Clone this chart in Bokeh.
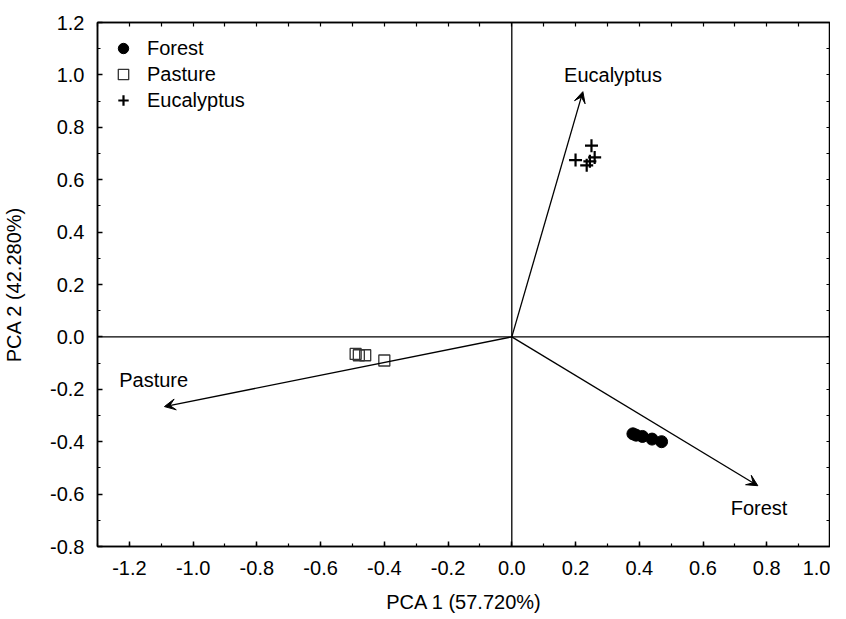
import numpy as np
from bokeh.plotting import figure
from bokeh.models import (Range1d, Arrow, VeeHead, Span, LinearAxis, FixedTicker,
                          Legend, LegendItem, ColumnDataSource, PrintfTickFormatter)
from bokeh.embed import file_html
from bokeh.resources import INLINE
from bokeh.core.properties import value

# ---- data ----
forest_x = [0.38, 0.39, 0.41, 0.44, 0.47]
forest_y = [-0.37, -0.375, -0.38, -0.39, -0.40]
pasture_x = [-0.49, -0.48, -0.46, -0.40]
pasture_y = [-0.065, -0.07, -0.07, -0.09]
euc_x = [0.25, 0.20, 0.235, 0.26, 0.245]
euc_y = [0.73, 0.675, 0.655, 0.685, 0.67]

vec_names = ["Forest", "Pasture", "Eucalyptus"]
vec_x = [0.772, -1.09, 0.223]
vec_y = [-0.568, -0.266, 0.936]
vec_label_x = [0.687, -1.232, 0.164]
vec_label_y = [-0.653, -0.164, 1.0]

x_ticks = [-1.2, -1.0, -0.8, -0.6, -0.4, -0.2, 0.0, 0.2, 0.4, 0.6, 0.8, 1.0]
y_ticks = [-0.8, -0.6, -0.4, -0.2, 0.0, 0.2, 0.4, 0.6, 0.8, 1.0, 1.2]
x_minor = [round(v, 1) for v in np.arange(-1.3, 1.01, 0.1)]
y_minor = [round(v, 1) for v in np.arange(-0.8, 1.21, 0.1)]

FONT = "Liberation Sans"
FS = "20px"

p = figure(frame_width=733, frame_height=524, output_backend="svg", toolbar_location=None,
           x_range=Range1d(-1.3, 1.0), y_range=Range1d(-0.8, 1.2),
           min_border_left=95, min_border_right=0, min_border_top=22, min_border_bottom=68,
           x_axis_label="PCA 1 (57.720%)", y_axis_label="PCA 2 (42.280%)")
p.grid.visible = False
p.outline_line_color = "black"
p.outline_line_width = 1.5
p.background_fill_color = "white"
p.border_fill_color = "white"

def style_axis(ax, ticks, minor):
    ax.ticker = FixedTicker(ticks=ticks, minor_ticks=minor)
    ax.formatter = PrintfTickFormatter(format="%.1f")
    ax.major_tick_in = 5
    ax.major_tick_out = 0
    ax.minor_tick_in = 3
    ax.minor_tick_out = 0
    ax.axis_line_width = 1.5
    ax.axis_line_color = "black"
    ax.major_tick_line_color = "black"
    ax.minor_tick_line_color = "black"
    ax.major_tick_line_width = 1.5
    ax.minor_tick_line_width = 1.2
    ax.major_label_text_font = FONT
    ax.major_label_text_font_size = FS
    ax.major_label_text_color = "black"
    ax.axis_label_text_font = FONT
    ax.axis_label_text_font_size = FS
    ax.axis_label_text_font_style = "normal"
    ax.axis_label_text_color = "black"

style_axis(p.xaxis[0], x_ticks, x_minor)
style_axis(p.yaxis[0], y_ticks, y_minor)
p.xaxis[0].major_label_standoff = 14
p.xaxis[0].axis_label_standoff = 13
p.yaxis[0].major_label_standoff = 13
p.yaxis[0].axis_label_standoff = 22

# top / right frame axes: tick marks only (no labels)
top = LinearAxis()
style_axis(top, [], x_minor)
top.minor_tick_in = 4
top.major_label_standoff = 0
p.add_layout(top, "above")
right = LinearAxis()
style_axis(right, [], y_minor)
right.minor_tick_in = 4
right.major_label_standoff = 0
p.add_layout(right, "right")

# cross lines through origin
p.add_layout(Span(location=0, dimension="height", line_color="black", line_width=1.3))
p.add_layout(Span(location=0, dimension="width", line_color="black", line_width=1.3))

# vectors
vsrc = ColumnDataSource(dict(x0=[0, 0, 0], y0=[0, 0, 0], x1=vec_x, y1=vec_y))
p.add_layout(Arrow(end=VeeHead(size=11, line_width=1, line_color="black",
                               fill_color="black"),
                   x_start="x0", y_start="y0", x_end="x1", y_end="y1",
                   line_width=1.3, line_color="black", source=vsrc))
p.text(x=vec_label_x, y=vec_label_y, text=vec_names, text_font=value(FONT),
       text_font_size=FS, text_baseline="middle", text_align="left", text_color="black")

# points
r_f = p.scatter(forest_x, forest_y, marker="circle", size=12, fill_color="black",
                line_color="black")
r_p = p.scatter(pasture_x, pasture_y, marker="square", size=11, fill_color=None,
                line_color="#333333", line_width=1.3)
r_e = p.scatter(euc_x, euc_y, marker="cross", size=13, line_color="black", line_width=2.2)

legend = Legend(items=[LegendItem(label="Forest", renderers=[r_f]),
                       LegendItem(label="Pasture", renderers=[r_p]),
                       LegendItem(label="Eucalyptus", renderers=[r_e])],
                location="top_left", border_line_color=None, background_fill_alpha=0,
                label_text_font=FONT, label_text_font_size=FS, label_text_color="black",
                margin=13, padding=6, spacing=0, label_standoff=11,
                glyph_width=26, glyph_height=26, label_height=26)
p.add_layout(legend)

open("out.html", "w").write(file_html(p, INLINE))
